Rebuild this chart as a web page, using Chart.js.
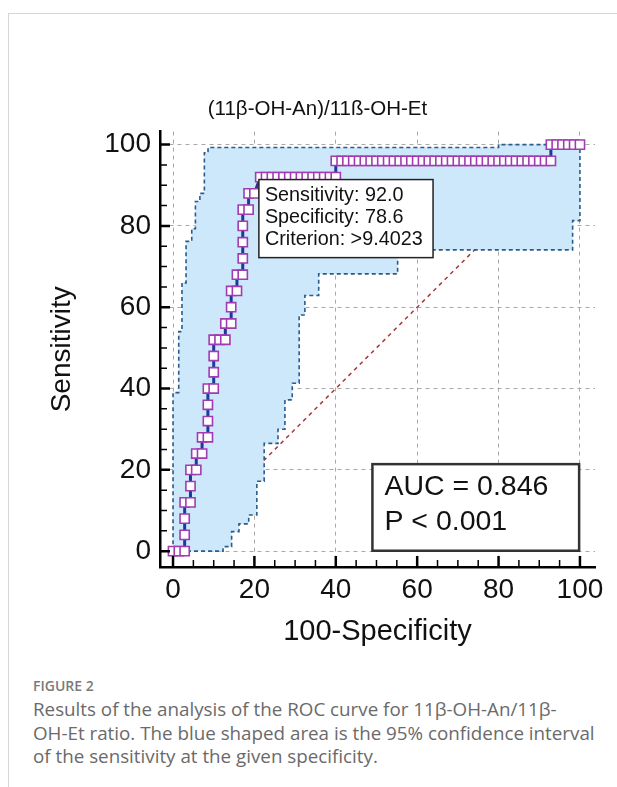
<!DOCTYPE html>
<html><head><meta charset="utf-8">
<script src="https://cdn.jsdelivr.net/npm/chart.js@4.4.1/dist/chart.umd.min.js"></script>
<style>
html,body{margin:0;padding:0;background:#fff;width:617px;height:787px;overflow:hidden;}
#frame{position:absolute;left:8px;top:13px;width:609px;height:774px;border-left:1px solid #d6d6d6;border-top:1px solid #d6d6d6;box-sizing:border-box;}
#c{position:absolute;left:0;top:0;}
#cap{position:absolute;left:33px;top:677px;width:580px;font-family:"Open Sans","Noto Sans",sans-serif;color:#6a6a6a;white-space:nowrap;}
#cap .fig{font-size:14px;font-weight:600;color:#7a7a7a;line-height:18px;margin-bottom:3px;}
#cap .txt{font-size:18.8px;line-height:23.5px;}
</style></head>
<body>
<div id="frame"></div>
<canvas id="c" width="617" height="660"></canvas>
<div id="cap"><div class="fig">FIGURE 2</div><div class="txt">Results of the analysis of the ROC curve for 11β-OH-An/11β-<br>OH-Et ratio. The blue shaped area is the 95% confidence interval<br>of the sensitivity at the given specificity.</div></div>
<script>
const chartTitle = "(11β-OH-An)/11ß-OH-Et";
const xTitle = "100-Specificity";
const yTitle = "Sensitivity";
const xTicks = [0, 20, 40, 60, 80, 100];
const yTicks = [0, 20, 40, 60, 80, 100];
const xMinorTicks = [5, 10, 15, 25, 30, 35, 45, 50, 55, 65, 70, 75, 85, 90, 95];
const yMinorTicks = [5, 10, 15, 25, 30, 35, 45, 50, 55, 65, 70, 75, 85, 90, 95];

// ROC curve (100-Specificity, Sensitivity)
const rocX = [0, 1.43, 2.86, 2.86, 2.86, 2.86, 4.29, 4.29, 4.29, 5.71, 5.71, 7.14, 7.14, 8.57, 8.57, 8.57, 8.57,
  10, 10, 10, 10, 11.43, 12.86, 12.86, 14.29, 14.29, 14.29, 15.71, 15.71, 17.14, 17.14, 17.14, 17.14, 17.14,
  18.57, 18.57, 20,
  21.43, 22.86, 24.29, 25.71, 27.14, 28.57, 30, 31.43, 32.86, 34.29, 35.71, 37.14, 38.57, 40,
  40, 41.43, 42.86, 44.29, 45.71, 47.14, 48.57, 50, 51.43, 52.86, 54.29, 55.71, 57.14, 58.57, 60, 61.43,
  62.86, 64.29, 65.71, 67.14, 68.57, 70, 71.43, 72.86, 74.29, 75.71, 77.14, 78.57, 80, 81.43, 82.86, 84.29,
  85.71, 87.14, 88.57, 90, 91.43, 92.86,
  92.86, 94.29, 95.71, 97.14, 98.57, 100];
const rocY = [0, 0, 0, 4, 8, 12, 12, 16, 20, 20, 24, 24, 28, 28, 32, 36, 40,
  40, 44, 48, 52, 52, 52, 56, 56, 60, 64, 64, 68, 68, 72, 76, 80, 84,
  84, 88, 88,
  92, 92, 92, 92, 92, 92, 92, 92, 92, 92, 92, 92, 92, 92,
  96, 96, 96, 96, 96, 96, 96, 96, 96, 96, 96, 96, 96, 96, 96, 96,
  96, 96, 96, 96, 96, 96, 96, 96, 96, 96, 96, 96, 96, 96, 96, 96,
  96, 96, 96, 96, 96, 96,
  100, 100, 100, 100, 100, 100];

// 95% confidence band
const ciUpperX = [0, 0, 1.4, 1.4, 2.2, 2.2, 3.2, 3.2, 4.6, 4.6, 5.5, 5.5, 6.6, 6.6, 7.7, 7.7, 8.6, 8.6, 80, 80, 100];
const ciUpperY = [0, 39, 39, 54, 54, 66, 66, 76.2, 76.2, 79.3, 79.3, 86, 86, 88, 88, 98, 98, 99.3, 99.3, 100, 100];
const ciLowerX = [0, 12.3, 12.3, 14.4, 14.4, 16.2, 16.2, 18.6, 18.6, 20.6, 20.6, 22.4, 22.4, 25.8, 25.8, 27.5, 27.5,
  29.3, 29.3, 31.0, 31.0, 32.4, 32.4, 35.8, 35.8, 55.2, 55.2, 98.2, 98.2, 100, 100];
const ciLowerY = [0, 0, 1.1, 1.1, 4.8, 4.8, 6.7, 6.7, 8.9, 8.9, 17.2, 17.2, 26.5, 26.5, 30, 30, 37.2, 37.2,
  41.3, 41.3, 58.1, 58.1, 62.9, 62.9, 68.2, 68.2, 74.1, 74.1, 81.3, 81.3, 100];

const diagX = [0, 100];
const diagY = [0, 100];

const criterionLines = ["Sensitivity: 92.0", "Specificity: 78.6", "Criterion: >9.4023"];
const aucLines = ["AUC = 0.846", "P < 0.001"];

const pts = (xs, ys) => xs.map((v, i) => ({x: v, y: ys[i]}));
const bandPts = pts(ciUpperX, ciUpperY).concat(pts(ciLowerX, ciLowerY).reverse());

const FONT = "'Liberation Sans', Arial, sans-serif";

const innerTicks = {
  id: 'innerTicks',
  afterDraw(chart) {
    const {ctx, chartArea: a, scales: {x, y}} = chart;
    ctx.save();
    ctx.strokeStyle = '#000';
    const draw = (vals, len, w) => {
      ctx.lineWidth = w;
      ctx.beginPath();
      vals.forEach(v => { const px = x.getPixelForValue(v); ctx.moveTo(px, a.bottom); ctx.lineTo(px, a.bottom - len); });
      ctx.stroke();
    };
    const drawY = (vals, len, w) => {
      ctx.lineWidth = w;
      ctx.beginPath();
      vals.forEach(v => { const py = y.getPixelForValue(v); ctx.moveTo(a.left, py); ctx.lineTo(a.left + len, py); });
      ctx.stroke();
    };
    draw(xMinorTicks, 7, 1.5); draw(xTicks, 11, 2.5);
    drawY(yMinorTicks, 7, 1.5); drawY(yTicks, 10, 2.5);
    ctx.restore();
  }
};

const boxes = {
  id: 'boxes',
  afterDatasetsDraw(chart) {
    const {ctx, scales: {x, y}} = chart;
    ctx.save();
    // criterion box
    let l = x.getPixelForValue(21.1), r = x.getPixelForValue(63.9);
    let t = y.getPixelForValue(91.4), b = y.getPixelForValue(72.2);
    ctx.fillStyle = '#fff'; ctx.fillRect(l, t, r - l, b - t);
    ctx.strokeStyle = '#222'; ctx.lineWidth = 1.5; ctx.strokeRect(l, t, r - l, b - t);
    ctx.fillStyle = '#111'; ctx.font = '19.8px ' + FONT; ctx.textBaseline = 'middle'; ctx.textAlign = 'left';
    criterionLines.forEach((s, i) => ctx.fillText(s, l + 6, t + 16 + i * 22.2));
    // AUC box
    l = x.getPixelForValue(49); r = x.getPixelForValue(99.8);
    t = y.getPixelForValue(21.4); b = y.getPixelForValue(0.1);
    ctx.fillStyle = '#fff'; ctx.fillRect(l, t, r - l, b - t);
    ctx.strokeStyle = '#333'; ctx.lineWidth = 2.5; ctx.strokeRect(l, t, r - l, b - t);
    ctx.fillStyle = '#111'; ctx.font = '28.5px ' + FONT;
    aucLines.forEach((s, i) => ctx.fillText(s, l + 12, t + 23 + i * 35));
    ctx.restore();
  }
};

new Chart(document.getElementById('c'), {
  type: 'scatter',
  data: {
    datasets: [
      {label: 'roc', data: pts(rocX, rocY), showLine: true, borderColor: '#1c3a9a', borderWidth: 3,
       pointStyle: 'rect', pointRadius: 6.5, pointBackgroundColor: '#fff', pointBorderColor: '#a23ab2',
       pointBorderWidth: 1.6, order: 1, clip: false},
      {label: 'upper', data: pts(ciUpperX, ciUpperY), showLine: true, borderColor: '#2a5c8c', borderWidth: 1.6,
       borderDash: [4, 3], pointRadius: 0, order: 2, clip: false},
      {label: 'lower', data: pts(ciLowerX, ciLowerY), showLine: true, borderColor: '#2a5c8c', borderWidth: 1.6,
       borderDash: [4, 3], pointRadius: 0, order: 2, clip: false},
      {label: 'band', data: bandPts, showLine: true, borderWidth: 0, borderColor: 'rgba(0,0,0,0)',
       backgroundColor: '#cde8fb', fill: 'shape', pointRadius: 0, order: 3},
      {label: 'diag', data: pts(diagX, diagY), showLine: true, borderColor: '#a8383c', borderWidth: 1.5,
       borderDash: [4, 4], pointRadius: 0, order: 4}
    ]
  },
  options: {
    responsive: false, animation: false, devicePixelRatio: 1,
    layout: {padding: {left: 40, right: 22, top: 0, bottom: 0}},
    plugins: {
      legend: {display: false}, tooltip: {enabled: false},
      title: {display: true, text: chartTitle, color: '#111', font: {family: FONT, size: 20.5, weight: 'normal'},
              padding: {top: 97, bottom: 10}}
    },
    scales: {
      x: {type: 'linear', min: -3.2, max: 103.7,
          afterBuildTicks: s => { s.ticks = xTicks.map(v => ({value: v})); },
          afterFit: s => { s.height = 93; },
          grid: {color: '#a8a8a8', lineWidth: 1, drawTicks: false},
          border: {display: true, color: '#000', width: 2.5, dash: [4, 4]},
          ticks: {color: '#111', font: {family: FONT, size: 28}, padding: 6, maxRotation: 0},
          title: {display: true, text: xTitle, color: '#111', font: {family: FONT, size: 29}, padding: {top: 0, bottom: 11}}
      },
      y: {type: 'linear', min: -3.9, max: 103.2,
          afterBuildTicks: s => { s.ticks = yTicks.map(v => ({value: v})); },
          afterFit: s => { s.width = 120; },
          grid: {color: '#a8a8a8', lineWidth: 1, drawTicks: false},
          border: {display: true, color: '#000', width: 2.5, dash: [4, 4]},
          ticks: {color: '#111', font: {family: FONT, size: 28}, padding: 9},
          title: {display: true, text: yTitle, color: '#111', font: {family: FONT, size: 28}, padding: {top: 5, bottom: 0}}
      }
    }
  },
  plugins: [innerTicks, boxes]
});
</script>
</body></html>
